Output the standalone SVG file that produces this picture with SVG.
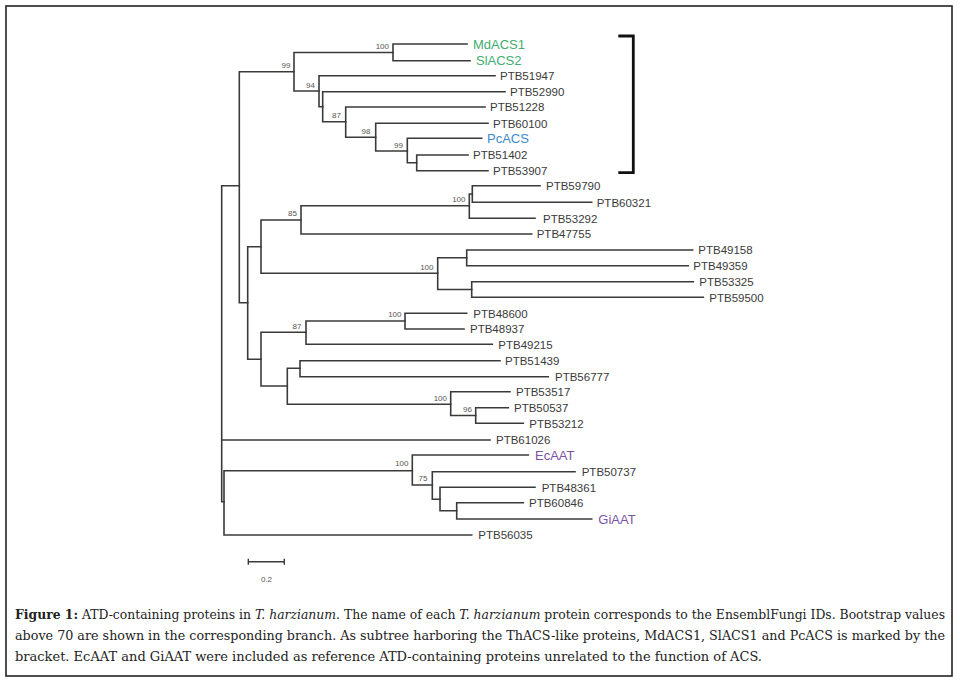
<svg xmlns="http://www.w3.org/2000/svg" width="960" height="684" viewBox="0 0 960 684">
<style>
.br{fill:none;stroke:#3a3a3a;stroke-width:1.6;stroke-linecap:square}
.lf{font-family:"Liberation Sans",Arial,sans-serif;font-size:11.5px;fill:#3a3a3a}
.cl{font-family:"Liberation Sans",Arial,sans-serif;font-size:13px}
.g{fill:#43ad72}.b{fill:#3b8bca}.p{fill:#7a53a3}
.bs{font-family:"Liberation Sans",Arial,sans-serif;font-size:8px;fill:#555;text-anchor:end}
.cap{font-family:"DejaVu Serif","Liberation Serif",serif;font-size:12px;fill:#222}
</style>
<rect x="6" y="6" width="946" height="670" fill="#fff" stroke="#222" stroke-width="1.6"/>
<g id="connectors" class="br">
<path d="M221.7 185.7V501.7M221.7 185.7H239.3M221.7 440H490M221.7 501.7H224"/>
<path d="M239.3 71.7V302.7M239.3 71.7H294M239.3 302.7H247.7"/>
<path d="M294 52.5V91M294 52.5H393M294 91H319"/>
<path d="M393 44V60.7M393 44H467M393 60.7H470"/>
<path d="M319 75.7V106.7M319 75.7H495M319 106.7H322.7"/>
<path d="M322.7 91.7V121.7M322.7 91.7H505M322.7 121.7H345.7"/>
<path d="M345.7 107V137.3M345.7 107H485M345.7 137.3H375.7"/>
<path d="M375.7 123.3V151M375.7 123.3H488M375.7 151H407.3"/>
<path d="M407.3 138.3V162.7M407.3 138.3H481.7M407.3 162.7H416.7"/>
<path d="M416.7 155V170.7M416.7 155H468M416.7 170.7H488"/>
<path d="M247.7 246.7V359.3M247.7 246.7H261M247.7 359.3H261"/>
<path d="M261 220V273.3M261 220H301M261 273.3H437.7"/>
<path d="M301 205.8V234M301 205.8H469.3M301 234H531.7"/>
<path d="M469.3 194V218.3M469.3 194H472.3M469.3 218.3H535"/>
<path d="M472.3 185.7V202.3M472.3 185.7H540M472.3 202.3H591.7"/>
<path d="M437.7 257.8V289.5M437.7 257.8H466.7M437.7 289.5H471.7"/>
<path d="M466.7 250V265.7M466.7 250H692.7M466.7 265.7H688.3"/>
<path d="M471.7 281.7V297.3M471.7 281.7H693.3M471.7 297.3H703.3"/>
<path d="M261 332.3V386M261 332.3H306M261 386H287.3"/>
<path d="M306 321V344.3M306 321H405M306 344.3H492.3"/>
<path d="M405 313.3V329M405 313.3H466.7M405 329H464"/>
<path d="M287.3 368.3V404.3M287.3 368.3H300M287.3 404.3H450.7"/>
<path d="M300 360.7V376.7M300 360.7H500M300 376.7H548.3"/>
<path d="M450.7 391.7V415.5M450.7 391.7H510M450.7 415.5H475.7"/>
<path d="M475.7 407.7V423.3M475.7 407.7H508.3M475.7 423.3H523.3"/>
<path d="M224 470.7V535M224 470.7H412.3M224 535H471.7"/>
<path d="M412.3 455V485M412.3 455H528.3M412.3 485H432.3"/>
<path d="M432.3 471.7V499.3M432.3 471.7H575M432.3 499.3H440"/>
<path d="M440 487.3V510.7M440 487.3H535M440 510.7H456.7"/>
<path d="M456.7 502.7V519M456.7 502.7H523.3M456.7 519H591.7"/>
</g>
<g id="bootstrap">
<text class="bs" x="389" y="48.5">100</text>
<text class="bs" x="290.5" y="67.5">99</text>
<text class="bs" x="315" y="88">94</text>
<text class="bs" x="341" y="118">87</text>
<text class="bs" x="370.5" y="133.5">98</text>
<text class="bs" x="403" y="147.5">99</text>
<text class="bs" x="297" y="216">85</text>
<text class="bs" x="465.5" y="202">100</text>
<text class="bs" x="433.5" y="269.5">100</text>
<text class="bs" x="301.5" y="328.5">87</text>
<text class="bs" x="401.5" y="317">100</text>
<text class="bs" x="447" y="401">100</text>
<text class="bs" x="472" y="412">96</text>
<text class="bs" x="408.5" y="465.5">100</text>
<text class="bs" x="427.5" y="481">75</text>
</g>
<g id="leaves">
<g id="n-MdACS1"><text class="cl g" x="473" y="48.7">MdACS1</text></g>
<g id="n-SlACS2"><text class="cl g" x="476" y="65.4">SlACS2</text></g>
<g id="n-PTB51947"><text class="lf" x="500" y="79.9">PTB51947</text></g>
<g id="n-PTB52990"><text class="lf" x="510" y="95.9">PTB52990</text></g>
<g id="n-PTB51228"><text class="lf" x="490" y="111.2">PTB51228</text></g>
<g id="n-PTB60100"><text class="lf" x="493" y="127.5">PTB60100</text></g>
<g id="n-PcACS"><text class="cl b" x="487" y="143">PcACS</text></g>
<g id="n-PTB51402"><text class="lf" x="473" y="159.2">PTB51402</text></g>
<g id="n-PTB53907"><text class="lf" x="493" y="174.9">PTB53907</text></g>
<g id="n-PTB59790"><text class="lf" x="546" y="189.9">PTB59790</text></g>
<g id="n-PTB60321"><text class="lf" x="596.7" y="206.5">PTB60321</text></g>
<g id="n-PTB53292"><text class="lf" x="543" y="222.5">PTB53292</text></g>
<g id="n-PTB47755"><text class="lf" x="536.7" y="238.2">PTB47755</text></g>
<g id="n-PTB49158"><text class="lf" x="698.3" y="254.2">PTB49158</text></g>
<g id="n-PTB49359"><text class="lf" x="693.3" y="269.9">PTB49359</text></g>
<g id="n-PTB53325"><text class="lf" x="699.3" y="285.9">PTB53325</text></g>
<g id="n-PTB59500"><text class="lf" x="709.3" y="301.5">PTB59500</text></g>
<g id="n-PTB48600"><text class="lf" x="473.3" y="317.5">PTB48600</text></g>
<g id="n-PTB48937"><text class="lf" x="470" y="333.2">PTB48937</text></g>
<g id="n-PTB49215"><text class="lf" x="498.3" y="348.5">PTB49215</text></g>
<g id="n-PTB51439"><text class="lf" x="505" y="364.9">PTB51439</text></g>
<g id="n-PTB56777"><text class="lf" x="555" y="380.9">PTB56777</text></g>
<g id="n-PTB53517"><text class="lf" x="516" y="395.9">PTB53517</text></g>
<g id="n-PTB50537"><text class="lf" x="514" y="411.9">PTB50537</text></g>
<g id="n-PTB53212"><text class="lf" x="529.3" y="427.5">PTB53212</text></g>
<g id="n-PTB61026"><text class="lf" x="496" y="444.2">PTB61026</text></g>
<g id="n-EcAAT"><text class="cl p" x="535" y="459.7">EcAAT</text></g>
<g id="n-PTB50737"><text class="lf" x="581.7" y="475.9">PTB50737</text></g>
<g id="n-PTB48361"><text class="lf" x="541.7" y="491.5">PTB48361</text></g>
<g id="n-PTB60846"><text class="lf" x="529" y="506.9">PTB60846</text></g>
<g id="n-GiAAT"><text class="cl p" x="598.3" y="523.7">GiAAT</text></g>
<g id="n-PTB56035"><text class="lf" x="478.3" y="539.2">PTB56035</text></g>
</g>
<g id="bracket"><path d="M618.3 36H633.3V172.7H618.3" fill="none" stroke="#111" stroke-width="2.8"/></g>
<g id="scale">
<path d="M248.3 561.7H284.3M248.3 558.7V564.7M284.3 558.7V564.7" fill="none" stroke="#3a3a3a" stroke-width="1.4"/>
<text class="bs" x="266.5" y="582" style="text-anchor:middle">0.2</text>
</g>
<g id="caption" class="cap">
<text x="15" y="619" textLength="930" lengthAdjust="spacingAndGlyphs"><tspan font-weight="bold">Figure 1:</tspan> ATD-containing proteins in <tspan font-style="italic">T. harzianum</tspan>. The name of each <tspan font-style="italic">T. harzianum</tspan> protein corresponds to the EnsemblFungi IDs. Bootstrap values</text>
<text x="15" y="640" textLength="930" lengthAdjust="spacingAndGlyphs">above 70 are shown in the corresponding branch. As subtree harboring the ThACS-like proteins, MdACS1, SlACS1 and PcACS is marked by the</text>
<text x="15" y="661" textLength="747" lengthAdjust="spacingAndGlyphs">bracket. EcAAT and GiAAT were included as reference ATD-containing proteins unrelated to the function of ACS.</text>
</g>
</svg>
